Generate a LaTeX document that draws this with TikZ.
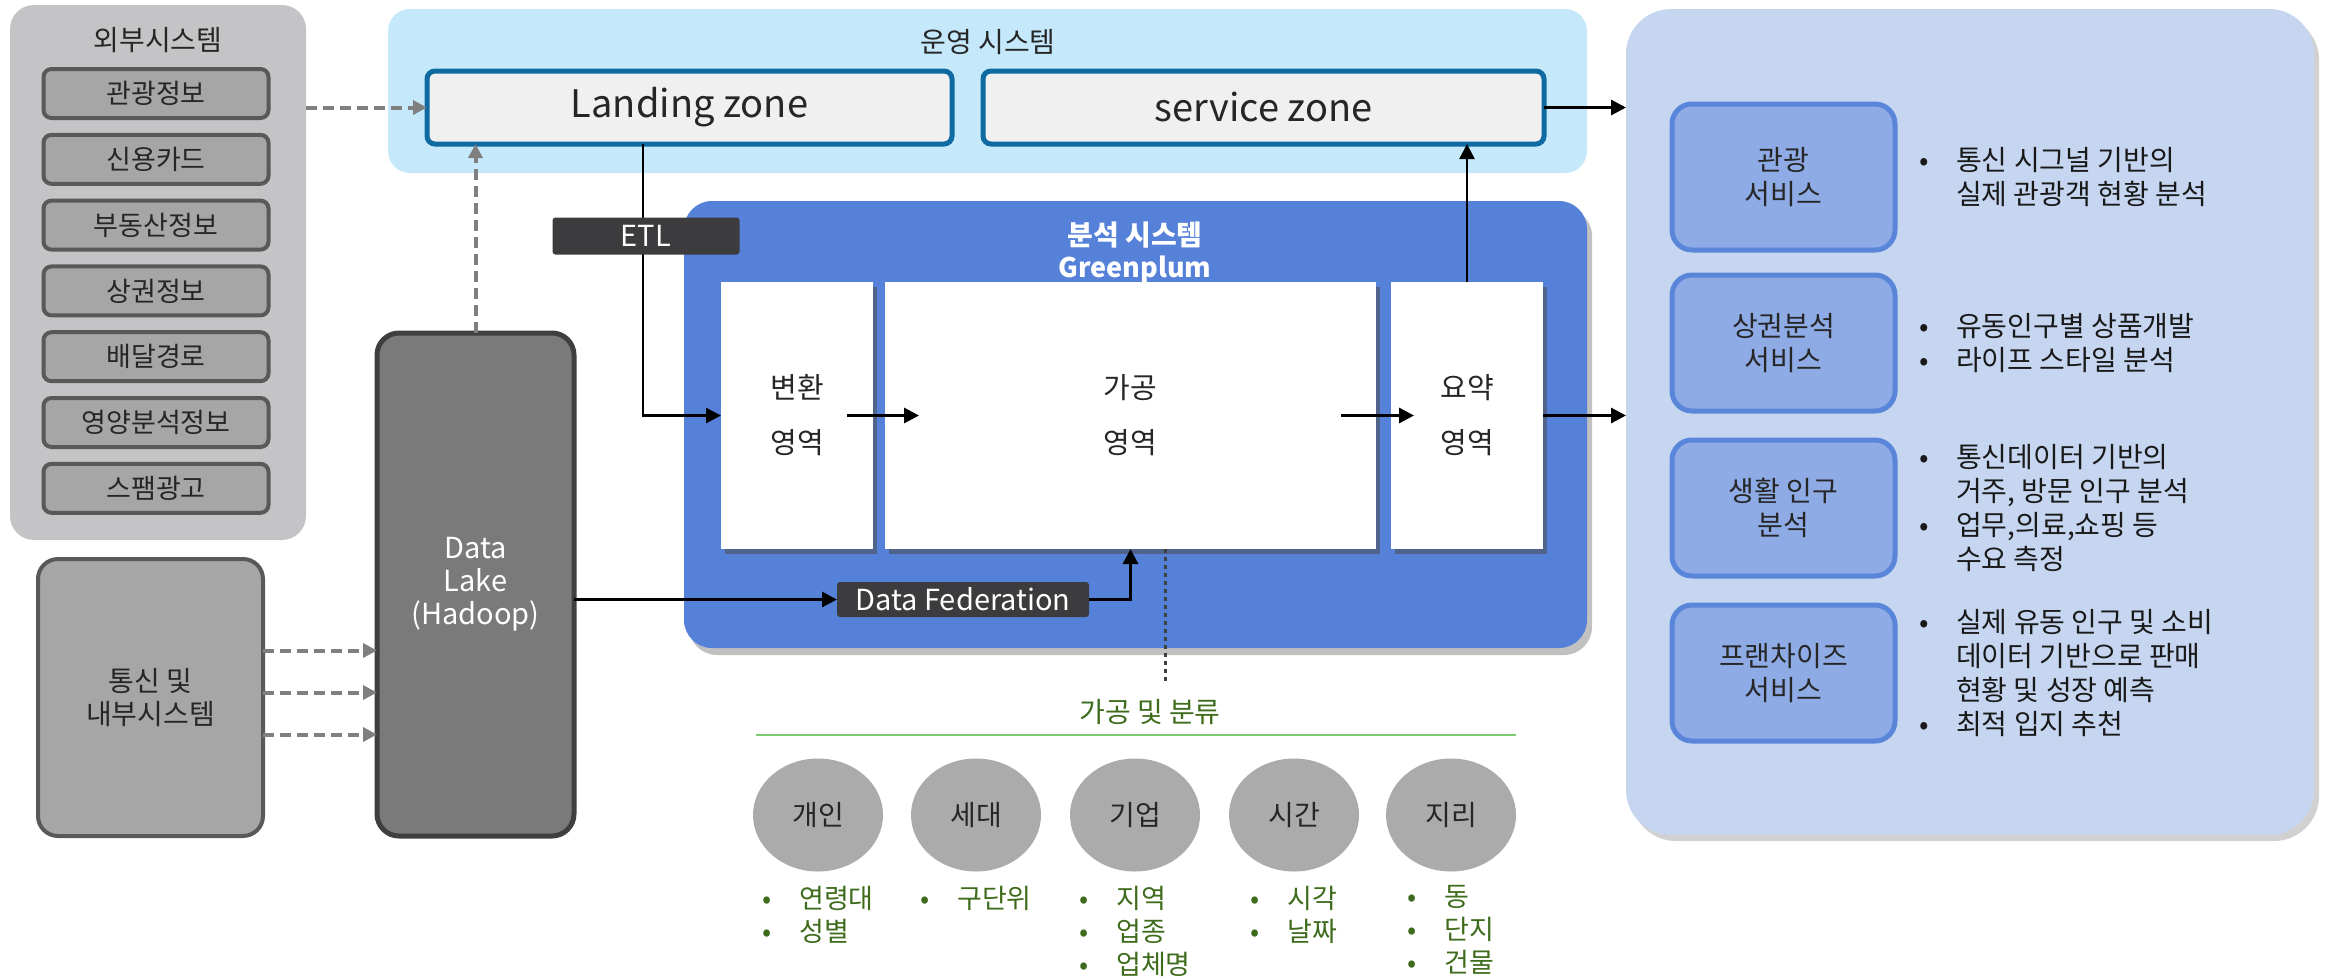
\documentclass[tikz,border=0pt]{standalone}
\usepackage{fontspec}
\setmainfont{Noto Sans CJK KR}
\usepackage{tikz}
\usetikzlibrary{arrows.meta,positioning,shapes.geometric,shadows}

\definecolor{extgray}{HTML}{C4C4C6}
\definecolor{itemgray}{HTML}{A6A6A6}
\definecolor{itemline}{HTML}{595959}
\definecolor{opsblue}{HTML}{C5E9FB}
\definecolor{zoneline}{HTML}{0E6AA0}
\definecolor{zonefill}{HTML}{F0F0F0}
\definecolor{anablue}{HTML}{5581D9}
\definecolor{tagdark}{HTML}{3C3C3E}
\definecolor{lakegray}{HTML}{7A7A7A}
\definecolor{lakeline}{HTML}{3F3F3F}
\definecolor{svcbg}{HTML}{C6D6F1}
\definecolor{svcfill}{HTML}{8EABE6}
\definecolor{svcline}{HTML}{5A86DA}
\definecolor{catgray}{HTML}{ABABAB}
\definecolor{leafgreen}{HTML}{3E6B1C}
\definecolor{rulegreen}{HTML}{7DCB70}
\definecolor{dashgray}{HTML}{7F7F7F}

\newcommand{\fsz}[2]{\fontsize{#1pt}{#2pt}\selectfont}
\newcommand{\bul}{\makebox[37pt][l]{•}}
\newcommand{\bulind}{\hspace*{37pt}}

\begin{document}
\begin{tikzpicture}[x=1pt, y=-1pt,
    panel/.style={rectangle, rounded corners=24pt, inner sep=0pt, outer sep=0pt},
    item/.style={rectangle, draw=itemline, line width=4pt, fill=itemgray, rounded corners=8pt, minimum width=225pt, minimum height=49pt, outer sep=0pt, font=\fsz{27}{32}, text=black!85},
    zone/.style={rectangle, draw=zoneline, line width=5pt, fill=zonefill, rounded corners=8pt, minimum height=73pt, outer sep=0pt, font=\fsz{38}{44}, text=black!85},
    area/.style={rectangle, fill=white, minimum height=267pt, outer sep=0pt, align=center, font=\fsz{29}{55}, text=black!85, drop shadow={shadow xshift=4pt, shadow yshift=-5pt, opacity=.55, fill=black!70}},
    tag/.style={rectangle, fill=tagdark, text=white, rounded corners=3pt, inner sep=0pt, outer sep=0pt, font=\fsz{29}{34}},
    cat/.style={ellipse, fill=catgray, minimum width=130pt, minimum height=113pt, inner sep=0pt, outer sep=0pt, font=\fsz{28}{34}, text=black!85},
    leaf/.style={align=left, inner sep=0pt, text=leafgreen, font=\fsz{27}{33}},
    svc/.style={rectangle, draw=svcline, line width=5pt, fill=svcfill, rounded corners=20pt, minimum width=223pt, minimum height=136pt, outer sep=0pt, align=center, font=\fsz{28}{34}, text=black!85},
    note/.style={align=left, inner sep=0pt, font=\fsz{28}{34}, text=black!90},
    arr/.style={-{Triangle[length=15pt, width=15pt]}, line width=3pt},
    feed/.style={-{Triangle[length=14pt, width=14pt]}, draw=dashgray, line width=4pt, dash pattern=on 11pt off 6pt},
    dotline/.style={draw=black!75, line width=3pt, dash pattern=on 4pt off 4pt}
]
\useasboundingbox (0,0) rectangle (2331,978);

% external systems
\node[panel, fill=extgray, minimum width=296pt, minimum height=535pt] (ext) at (158,272.5) {};
\node[font=\fsz{28}{34}, text=black!85] (exttitle) at (158,40) {외부시스템};
\node[item] (tour) at (156,93.5) {관광정보};
\node[item, below=16.8pt of tour] (card) {신용카드};
\node[item, below=16.8pt of card] (estate) {부동산정보};
\node[item, below=16.8pt of estate] (market) {상권정보};
\node[item, below=16.8pt of market] (delivery) {배달경로};
\node[item, below=16.8pt of delivery] (nutrition) {영양분석정보};
\node[item, below=16.8pt of nutrition] (spam) {스팸광고};

\node[item, rounded corners=20pt, minimum width=225pt, minimum height=277pt, align=center, font=\fsz{28}{33}] (telco) at (150.5,697.5) {통신 및\\내부시스템};
\node[rectangle, draw=lakeline, fill=lakegray, line width=5pt, rounded corners=22pt, minimum width=197pt, minimum height=503pt, outer sep=0pt, align=center, text=white, font=\fsz{29}{33}] (lake) at (475.5,584.5) {Data\\Lake\\(Hadoop)};

% operation system
\node[panel, fill=opsblue, rounded corners=22pt, minimum width=1199pt, minimum height=164pt] (ops) at (987.5,91) {};
\node[font=\fsz{28}{34}, text=black!85] (opstitle) at (988,42) {운영 시스템};
\node[zone, minimum width=525pt] (landing) at (689.5,107.5) {Landing zone};
\node[zone, minimum width=561pt] (service) at (1263.5,107.5) {service zone};

% analysis system
\node[panel, fill=anablue, rounded corners=28pt, minimum width=903pt, minimum height=447pt, drop shadow={shadow xshift=5pt, shadow yshift=-7pt, opacity=.35, fill=black!70}] (ana) at (1135.5,424.5) {};
\node[text=white, font=\bfseries\fsz{28}{34}] (anatitle) at (1135,235) {분석 시스템};
\node[text=white, font=\bfseries\fsz{27}{32}] (greenplum) at (1135,269) {Greenplum};
\node[area, minimum width=152pt] (byun) at (797,415.5) {변환\\영역};
\node[area, minimum width=491pt, right=12pt of byun] (gagong) {가공\\영역};
\node[area, minimum width=152pt, right=15pt of gagong] (yoyak) {요약\\영역};
\node[tag, minimum width=252pt, minimum height=35pt] (fed) at (963,599.5) {Data Federation};

% services
\node[panel, fill=svcbg, rounded corners=45pt, minimum width=688pt, minimum height=826pt, drop shadow={shadow xshift=5pt, shadow yshift=-6pt, opacity=.3, fill=black!60}] (svcpanel) at (1970,422) {};
\node[svc, minimum height=146pt] (tourism) at (1783.5,177) {관광\\서비스};
\node[svc, below=25pt of tourism] (trade) {상권분석\\서비스};
\node[svc, below=29pt of trade] (living) {생활 인구\\분석};
\node[svc, below=29pt of living] (franchise) {프랜차이즈\\서비스};
\node[note, right=24pt of tourism] (tourismnote) {\bul 통신 시그널 기반의\\\bulind 실제 관광객 현황 분석};
\node[note, right=24pt of trade] (tradenote) {\bul 유동인구별 상품개발\\\bul 라이프 스타일 분석};
\node[note, right=24pt of living] (livingnote) {\bul 통신데이터 기반의\\\bulind 거주, 방문 인구 분석\\\bul 업무,의료,쇼핑 등\\\bulind 수요 측정};
\node[note, right=24pt of franchise] (franchisenote) {\bul 실제 유동 인구 및 소비\\\bulind 데이터 기반으로 판매\\\bulind 현황 및 성장 예측\\\bul 최적 입지 추천};

% classification
\node[text=leafgreen, font=\fsz{28}{34}] (classify) at (1150,712) {가공 및 분류};
\draw[rulegreen, line width=2.5pt] (756,735) -- (1516,735);
\node[cat] (person) at (818,815) {개인};
\node[cat, right=28pt of person] (household) {세대};
\node[cat, right=29pt of household] (firm) {기업};
\node[cat, right=29pt of firm] (clock) {시간};
\node[cat, right=27pt of clock] (geo) {지리};
\node[leaf, below=14pt of person] (personleaf) {\bul 연령대\\\bul 성별};
\node[leaf, below=14pt of household] (householdleaf) {\bul 구단위};
\node[leaf, below=14pt of firm] (firmleaf) {\bul 지역\\\bul 업종\\\bul 업체명};
\node[leaf, below=14pt of clock] (clockleaf) {\bul 시각\\\bul 날짜};
\node[leaf, below=14pt of geo] (geoleaf) {\bul 동\\\bul 단지\\\bul 건물};
\coordinate (dotend) at (1165,682);

% connectors
\draw[feed] (ext.east |- landing.west) -- (landing.west);
\draw[feed] (lake.north) -- (lake.north |- landing.south);
\draw[feed] ([yshift=47pt]telco.east) -- ([yshift=47pt]telco.east -| lake.west);
\draw[feed] ([yshift=5pt]telco.east) -- ([yshift=5pt]telco.east -| lake.west);
\draw[feed] ([yshift=-37pt]telco.east) -- ([yshift=-37pt]telco.east -| lake.west);

\draw[arr, line width=2.5pt] ([xshift=-46.5pt]landing.south) |- (byun.west);
\node[tag, minimum width=187pt, minimum height=37pt] (etl) at (646,236) {ETL};
\draw[arr] ([xshift=-26pt]byun.east) -- ([xshift=34pt]gagong.west);
\draw[arr] ([xshift=-35pt]gagong.east) -- ([xshift=23pt]yoyak.west);
\draw[arr] (yoyak.east) -- (yoyak.east -| svcpanel.west);
\draw[arr, line width=2.5pt] (yoyak.north) -- (yoyak.north |- service.south);
\draw[arr] (service.east) -- (service.east -| svcpanel.west);
\draw[arr] (lake.east |- fed.west) -- (fed.west);
\draw[arr] (fed.east) -| (gagong.south);
\draw[dotline] ([xshift=34.5pt]gagong.south) -- (dotend);

\end{tikzpicture}
\end{document}
